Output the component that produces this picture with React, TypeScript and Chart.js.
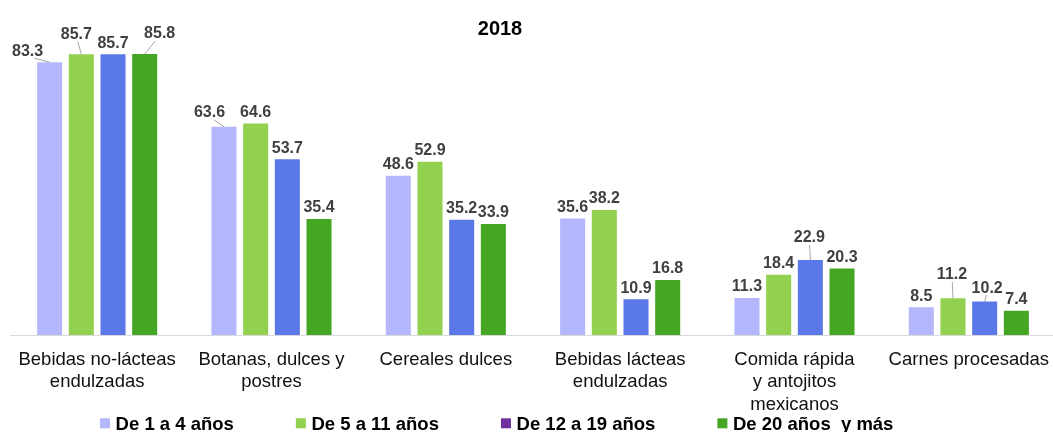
import React, { useEffect, useRef } from "react";
import { Chart, registerables } from "chart.js";

Chart.register(...registerables);

const categories: (string | string[])[] = [
  ["Bebidas no-lácteas", "endulzadas"],
  ["Botanas, dulces y", "postres"],
  "Cereales dulces",
  ["Bebidas lácteas", "endulzadas"],
  ["Comida rápida", "y antojitos", "mexicanos"],
  "Carnes procesadas",
];
const seriesNames = ["De 1 a 4 años", "De 5 a 11 años", "De 12 a 19 años", "De 20 años  y más"];
const age1to4 = [83.3, 63.6, 48.6, 35.6, 11.3, 8.5];
const age5to11 = [85.7, 64.6, 52.9, 38.2, 18.4, 11.2];
const age12to19 = [85.7, 53.7, 35.2, 10.9, 22.9, 10.2];
const age20plus = [85.8, 35.4, 33.9, 16.8, 20.3, 7.4];
const titleText = "2018";

const barColors = ["#B4B7FB", "#92D050", "#5B78E8", "#44A623"];
const legendColors = ["#B4B7FB", "#92D050", "#7030A0", "#44A623"];
const FONT = "'Liberation Sans', Arial, Helvetica, sans-serif";

// label offsets (style) keyed "datasetIndex-categoryIndex"
const labelNudges: Record<string, [number, number]> = {
  "0-0": [-22, 0],
  "1-0": [-5, -9],
  "3-0": [15, -9],
  "0-1": [-14.5, -3],
  "2-4": [-1, -11],
  "1-5": [-1, -12.5],
  "2-5": [2.5, -2.5],
};

const decorPlugin = {
  id: "decor",
  afterDatasetsDraw(chart: any) {
    const ctx = chart.ctx as CanvasRenderingContext2D;
    ctx.save();
    ctx.font = `bold 16px ${FONT}`;
    ctx.textAlign = "center";
    ctx.textBaseline = "middle";
    chart.data.datasets.forEach((ds: any, di: number) => {
      const meta = chart.getDatasetMeta(di);
      meta.data.forEach((el: any, i: number) => {
        const v = ds.data[i];
        const txt = v.toFixed(1);
        const nudge = labelNudges[`${di}-${i}`];
        const dx = nudge ? nudge[0] : 0;
        const dy = nudge ? nudge[1] : 0;
        const lx = el.x + dx;
        const ly = el.y - 11 + dy;
        if (nudge) {
          ctx.strokeStyle = "#A6A6A6";
          ctx.lineWidth = 1;
          ctx.beginPath();
          ctx.moveTo(lx - dx * 0.3, ly + 7);
          ctx.lineTo(el.x, el.y);
          ctx.stroke();
        }
        ctx.fillStyle = "#404040";
        ctx.fillText(txt, lx, ly);
      });
    });
    ctx.restore();
  },
  afterDraw(chart: any) {
    const ctx = chart.ctx as CanvasRenderingContext2D;
    ctx.save();
    ctx.font = `bold 20px ${FONT}`;
    ctx.fillStyle = "#000000";
    ctx.textAlign = "center";
    ctx.textBaseline = "alphabetic";
    ctx.fillText(titleText, 500, 34.5);
    ctx.font = `bold 18.5px ${FONT}`;
    ctx.textAlign = "left";
    const widths = seriesNames.map((n) => ctx.measureText(n).width);
    const box = 10;
    const boxGap = 5.6;
    const itemGap = 62;
    const total = widths.reduce((a, w) => a + box + boxGap + w, 0) + itemGap * (seriesNames.length - 1);
    let x = 496.7 - total / 2;
    seriesNames.forEach((n, i) => {
      ctx.fillStyle = legendColors[i];
      ctx.fillRect(x, 418.3, box, box);
      ctx.fillStyle = "#000000";
      ctx.fillText(n, x + box + boxGap, 429.5);
      x += box + boxGap + widths[i] + itemGap;
    });
    ctx.restore();
  },
};

export default function App() {
  const ref = useRef<HTMLCanvasElement>(null);
  useEffect(() => {
    if (!ref.current) return;
    const series = [age1to4, age5to11, age12to19, age20plus];
    const chart = new Chart(ref.current, {
      type: "bar",
      data: {
        labels: categories,
        datasets: series.map((d, i) => ({
          label: seriesNames[i],
          data: d,
          backgroundColor: barColors[i],
          borderWidth: 0,
          categoryPercentage: 0.727,
          barPercentage: 0.79,
        })),
      },
      options: {
        animation: false,
        responsive: false,
        layout: { padding: { top: 7.5, left: 10, right: 0, bottom: 0 } },
        plugins: {
          legend: { display: false },
          title: { display: false },
          tooltip: { enabled: false },
        },
        scales: {
          x: {
            grid: { display: false },
            border: { display: true, color: "#D9D9D9", width: 1 },
            ticks: {
              autoSkip: false,
              maxRotation: 0,
              minRotation: 0,
              padding: 6,
              color: "#111111",
              font: { family: FONT, size: 18.5, lineHeight: 1.2 },
            },
            afterFit: (scale: any) => {
              scale.height = 97;
            },
          },
          y: {
            display: false,
            min: 0,
            max: 100,
          },
        },
      },
      plugins: [decorPlugin],
    });
    return () => chart.destroy();
  }, []);
  return (
    <div style={{ position: "fixed", left: 0, top: 0, width: 1053, height: 432, overflow: "hidden", background: "#fff" }}>
      <canvas ref={ref} width={1056} height={432} style={{ width: 1056, height: 432, display: "block" }} />
    </div>
  );
}
